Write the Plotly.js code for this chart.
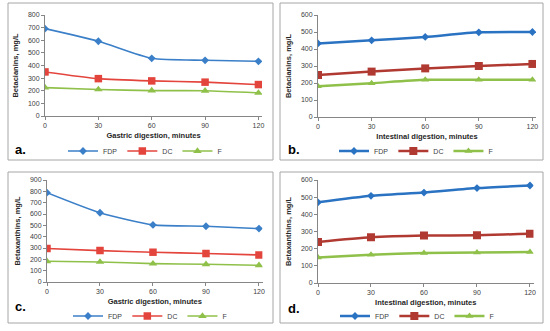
<!DOCTYPE html>
<html>
<head>
<meta charset="utf-8">
<script src="https://cdn.plot.ly/plotly-3.0.1.min.js"></script>
<style>html,body{margin:0;padding:0;background:#fff}#chart{width:550px;height:331px}</style>
</head>
<body>
<div id="chart"></div>
<script>
// Data
const minutes = [0, 30, 60, 90, 120];
const seriesNames = ["FDP", "DC", "F"];

// a. Betacianins, gastric digestion
const aFDP = [692, 592, 457, 441, 433];
const aDC  = [349, 296, 278, 268, 249];
const aF   = [225, 210, 201, 200, 183];

// b. Betacianins, intestinal digestion
const bFDP = [433, 451, 471, 498, 500];
const bDC  = [247, 267, 286, 300, 312];
const bF   = [181, 199, 219, 219, 219];

// c. Betaxanthins, gastric digestion
const cFDP = [788, 611, 504, 492, 471];
const cDC  = [296, 277, 263, 251, 239];
const cF   = [183, 177, 162, 156, 147];

// d. Betaxanthins, intestinal digestion
const dFDP = [470, 508, 527, 553, 568];
const dDC  = [239, 266, 276, 278, 287];
const dF   = [149, 165, 175, 177, 181];

const panelLabels = ["a.", "b.", "c.", "d."];
const yTitles = ["Betacianins, mg/L", "Betacianins, mg/L", "Betaxanthins, mg/L", "Betaxanthins, mg/L"];
const xTitles = ["Gastric digestion, minutes", "Intestinal digestion, minutes", "Gastric digestion, minutes", "Intestinal digestion, minutes"];
const yMax = [800, 600, 900, 600];

const panels = [
  {data: [aFDP, aDC, aF], thick: false},
  {data: [bFDP, bDC, bF], thick: true},
  {data: [cFDP, cDC, cF], thick: false},
  {data: [dFDP, dDC, dF], thick: true}
];

const colorsThin = ["#3a7fc8", "#e3443c", "#8fc04a"];
const colorsThick = ["#2a72c2", "#b03a32", "#8fc04a"];
const symbols = ["diamond", "square", "triangle-up"];
const msizeThin = [6, 7.5, 7.5];
const msizeThick = [6, 8, 7];

const FONT = "Liberation Sans, Arial, sans-serif";
const traces = [];
panels.forEach((p, i) => {
  const ax = i === 0 ? "" : String(i + 1);
  const cols = p.thick ? colorsThick : colorsThin;
  p.data.forEach((vals, k) => {
    traces.push({
      x: minutes, y: vals, name: seriesNames[k],
      type: "scatter", mode: "lines+markers",
      xaxis: "x" + ax, yaxis: "y" + ax,
      legend: i === 0 ? "legend" : "legend" + (i + 1),
      line: {color: cols[k], width: p.thick ? 2.5 : 1.6, shape: "spline", smoothing: 0.6},
      marker: {color: cols[k], symbol: symbols[k], size: p.thick ? msizeThick[k] : msizeThin[k]},
      hoverinfo: "x+y+name"
    });
  });
});

const H = 331, W = 550;
const fy = v => 1 - v / H;
const fx = v => v / W;

// pixel geometry of plot areas
const geo = [
  {x0: 45, x1: 262, yTop: 15, yBot: 116},
  {x0: 318, x1: 536, yTop: 15, yBot: 117},
  {x0: 47, x1: 262.5, yTop: 180, yBot: 282},
  {x0: 318, x1: 533.5, yTop: 180, yBot: 283}
];
const boxes = [
  {x0: 8, x1: 273, y0: 3, y1: 160},
  {x0: 280, x1: 543, y0: 3, y1: 160},
  {x0: 8, x1: 273, y0: 172, y1: 323},
  {x0: 280, x1: 543, y0: 172, y1: 323}
];
const legendPos = [
  {x: 145, y: 151}, {x: 416, y: 151}, {x: 150, y: 316}, {x: 417, y: 316}
];
const labelPos = [
  {x: 13, y: 149}, {x: 286, y: 149}, {x: 13, y: 306}, {x: 286, y: 308}
];

const layout = {
  width: W, height: H,
  margin: {l: 0, r: 0, t: 0, b: 0},
  paper_bgcolor: "#ffffff", plot_bgcolor: "#ffffff",
  font: {family: FONT, size: 7, color: "#404040"},
  shapes: [], annotations: []
};

geo.forEach((g, i) => {
  const ax = i === 0 ? "" : String(i + 1);
  layout["xaxis" + ax] = {
    domain: [fx(g.x0), fx(g.x1)], anchor: "y" + ax,
    range: [0, 122], tickvals: minutes, ticktext: minutes.map(String),
    showline: true, linecolor: "#868686", linewidth: 1,
    ticks: "outside", ticklen: 3, tickcolor: "#868686",
    showgrid: false, zeroline: false, automargin: false,
    tickfont: {family: FONT, size: 7, color: "#404040"},
    title: {text: "<b>" + xTitles[i] + "</b>", font: {family: FONT, size: 7.5, color: "#262626"}, standoff: 4}
  };
  layout["yaxis" + ax] = {
    domain: [fy(g.yBot), fy(g.yTop)], anchor: "x" + ax,
    range: [0, yMax[i]], dtick: 100, tick0: 0,
    showline: true, linecolor: "#868686", linewidth: 1,
    ticks: "outside", ticklen: 3, tickcolor: "#868686",
    showgrid: false, zeroline: false, automargin: false,
    tickfont: {family: FONT, size: 7, color: "#404040"},
    title: {text: "<b>" + yTitles[i] + "</b>", font: {family: FONT, size: 7.5, color: "#262626"}, standoff: 8}
  };
  const b = boxes[i];
  layout.shapes.push({
    type: "rect", xref: "paper", yref: "paper",
    x0: fx(b.x0), x1: fx(b.x1), y0: fy(b.y1), y1: fy(b.y0),
    line: {color: "#a6a6a6", width: 1}, fillcolor: "rgba(0,0,0,0)", layer: "below"
  });
  layout.annotations.push({
    text: "<b>" + panelLabels[i] + "</b>", xref: "paper", yref: "paper",
    x: fx(labelPos[i].x), y: fy(labelPos[i].y), xanchor: "left", yanchor: "middle",
    showarrow: false, font: {family: FONT, size: 13, color: "#000000"}
  });
  const lg = {
    orientation: "h", xref: "paper", yref: "paper",
    x: fx(legendPos[i].x), y: fy(legendPos[i].y), xanchor: "center", yanchor: "middle",
    font: {family: FONT, size: 7, color: "#404040"},
    bgcolor: "rgba(0,0,0,0)", itemwidth: 30, tracegroupgap: 0,
    itemclick: false, itemdoubleclick: false
  };
  layout[i === 0 ? "legend" : "legend" + (i + 1)] = lg;
});

Plotly.newPlot("chart", traces, layout, {displayModeBar: false, staticPlot: true});
</script>
</body>
</html>
